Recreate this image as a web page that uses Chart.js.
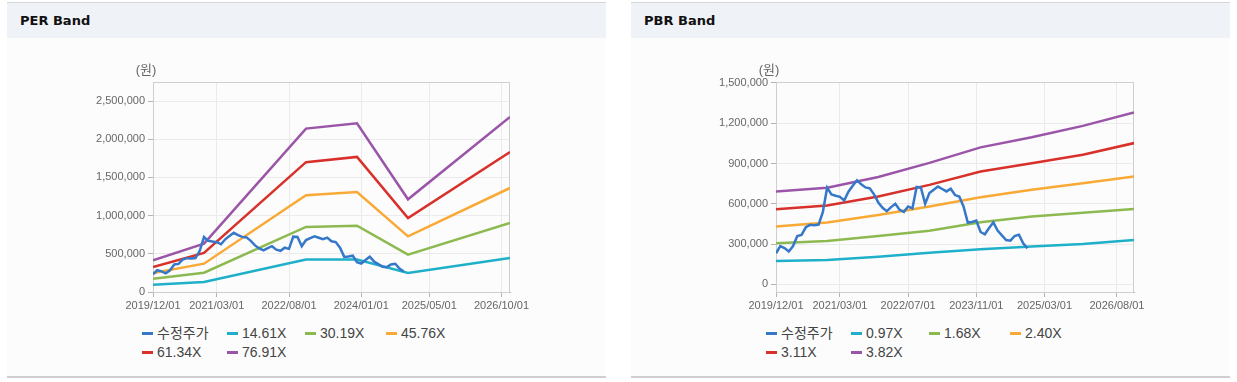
<!DOCTYPE html>
<html>
<head>
<meta charset="utf-8">
<script src="https://cdn.jsdelivr.net/npm/chart.js@4/dist/chart.umd.min.js"></script>
<style>
  body { margin: 0; width: 1237px; height: 382px; position: relative; overflow: hidden; background: #fff;
         font-family: "Liberation Sans", "Noto Sans CJK KR", sans-serif; }
  .panel { position: absolute; top: 2px; width: 599px; height: 373px; background: #fcfcfc;
           border-top: 1px solid #d6d6d6; border-bottom: 2px solid #cfcfcf; }
  .panel h3 { margin: 0; height: 35px; padding-left: 13px; background: #eff2f7;
              font: bold 13px "DejaVu Sans", sans-serif; line-height: 36px; color: #111; }
  canvas { position: absolute; }
  .legend { position: absolute; display: grid; grid-template-columns: 85px 78px 81px 81px; row-gap: 1px;
            font-size: 14px; color: #444; line-height: 18px; }
  .legend span i { display: inline-block; width: 11px; height: 3px; margin-right: 4px; vertical-align: middle;
                   position: relative; top: -1px; }
</style>
</head>
<body>
<div class="panel" style="left:7px"><h3>PER Band</h3></div>
<div class="panel" style="left:631px"><h3>PBR Band</h3></div>
<canvas id="per" width="480" height="260" style="left:60px;top:56px"></canvas>
<canvas id="pbr" width="480" height="260" style="left:680px;top:56px"></canvas>
<div class="legend" id="per-legend" style="left:142px;top:324px"></div>
<div class="legend" id="pbr-legend" style="left:766px;top:324px"></div>
<script>
// months counted from 2019/12/01
const perTickMonths = [0, 15, 32, 49, 65, 82];
const perTickLabels = ['2019/12/01', '2021/03/01', '2022/08/01', '2024/01/01', '2025/05/01', '2026/10/01'];
const pbrTickMonths = [0, 15, 31, 47, 63, 80];
const pbrTickLabels = ['2019/12/01', '2021/03/01', '2022/07/01', '2023/11/01', '2025/03/01', '2026/08/01'];

const perYTicks = [0, 500000, 1000000, 1500000, 2000000, 2500000];
const pbrYTicks = [0, 300000, 600000, 900000, 1200000, 1500000];

// 수정주가, monthly from 2019/12
const price = [231000, 285000, 270000, 245000, 285000, 360000, 368000, 425000, 443000, 440000,
  445000, 540000, 720000, 670000, 660000, 652000, 625000, 690000, 735000, 775000,
  745000, 722000, 715000, 670000, 610000, 570000, 545000, 575000, 600000, 555000,
  540000, 580000, 565000, 725000, 720000, 600000, 680000, 705000, 728000, 710000,
  692000, 712000, 665000, 654000, 580000, 460000, 465000, 475000, 390000, 373000,
  420000, 462000, 400000, 365000, 330000, 325000, 360000, 370000, 306000, 268000];

// PER band vertices
const perX = [0, 12, 36, 48, 60, 84];
const per1461 = [96000, 131000, 424000, 424000, 249000, 445000];
const per3019 = [175000, 253000, 852000, 869000, 489000, 904000];
const per4576 = [249000, 371000, 1266000, 1310000, 729000, 1362000];
const per6134 = [328000, 511000, 1700000, 1769000, 969000, 1834000];
const per7691 = [415000, 633000, 2140000, 2210000, 1214000, 2293000];

// PBR band vertices
const pbrX = [0, 12, 24, 36, 48, 60, 72, 84];
const pbr097 = [174000, 181000, 206000, 236000, 261000, 281000, 301000, 331000];
const pbr168 = [306000, 323000, 360000, 400000, 462000, 505000, 534000, 562000];
const pbr240 = [430000, 460000, 517000, 579000, 649000, 704000, 753000, 803000];
const pbr311 = [559000, 587000, 654000, 741000, 840000, 902000, 965000, 1052000];
const pbr382 = [691000, 720000, 800000, 905000, 1020000, 1095000, 1180000, 1280000];

const COLORS = ['#3577c8', '#1fb0c9', '#8cba50', '#f9a935', '#d8302b', '#9a55a8'];

const pts = (xs, ys) => ys.map((y, i) => ({ x: xs[i], y }));

const frame = {
  id: 'frame',
  beforeDatasetsDraw(chart) {
    const { ctx, chartArea: a } = chart;
    ctx.save();
    ctx.strokeStyle = '#cfcfcf';
    ctx.lineWidth = 1;
    ctx.strokeRect(a.left + 0.5, a.top + 0.5, a.right - a.left - 1, a.bottom - a.top);
    ctx.restore();
  },
  afterDraw(chart) {
    const { ctx, chartArea: a } = chart;
    ctx.save();
    ctx.fillStyle = '#666';
    ctx.font = '13px "Liberation Sans", "Noto Sans CJK KR"';
    ctx.textAlign = 'center';
    ctx.textBaseline = 'middle';
    ctx.fillText('(원)', a.left - 7, a.top - 12);
    ctx.restore();
  }
};

function makeChart(id, names, series, xs, tickMonths, tickLabels, yTicks, yMin, yMax, yWidth) {
  const datasets = [{ label: names[0], data: price.map((y, i) => ({ x: i, y })) }]
    .concat(series.map((s, i) => ({ label: names[i + 1], data: pts(xs, s) })))
    .map((d, i) => Object.assign(d, {
      borderColor: COLORS[i], backgroundColor: COLORS[i], borderWidth: 2.5,
      pointRadius: 0, tension: 0, fill: false
    }));

  const tickFont = { family: '"Liberation Sans", "Noto Sans CJK KR"', size: 11 };
  const chart = new Chart(document.getElementById(id), {
    type: 'line',
    data: { datasets },
    plugins: [frame],
    options: {
      responsive: false,
      animation: false,
      layout: { padding: { top: 26, right: id === 'per' ? 30 : 26, left: 0, bottom: 0 } },
      plugins: { legend: { display: false }, tooltip: { enabled: false } },
      scales: {
        x: {
          type: 'linear', min: 0, max: 84,
          afterBuildTicks: s => { s.ticks = tickMonths.map(v => ({ value: v })); },
          afterFit: s => { s.height = 24; },
          ticks: { autoSkip: false, maxRotation: 0, padding: 2, color: '#666', font: tickFont,
                   callback: (v, i) => tickLabels[i] },
          grid: { color: '#ebebeb', tickColor: '#b5b5b5', tickLength: 5 },
          border: { color: '#b0b0b0' }
        },
        y: {
          type: 'linear', min: yMin, max: yMax,
          afterBuildTicks: s => { s.ticks = yTicks.map(v => ({ value: v })); },
          afterFit: s => { s.width = yWidth; },
          ticks: { padding: 3, color: '#666', font: tickFont,
                   callback: v => v.toLocaleString('en-US') },
          grid: { color: '#ebebeb', tickColor: '#b5b5b5', tickLength: 5 },
          border: { color: '#b0b0b0' }
        }
      }
    }
  });

  const legend = document.getElementById(id + '-legend');
  chart.data.datasets.forEach(d => {
    legend.innerHTML += `<span><i style="background:${d.borderColor}"></i>${d.label}</span>`;
  });
  return chart;
}

makeChart('per', ['수정주가', '14.61X', '30.19X', '45.76X', '61.34X', '76.91X'],
  [per1461, per3019, per4576, per6134, per7691], perX,
  perTickMonths, perTickLabels, perYTicks, 0, 2750000, 93);

makeChart('pbr', ['수정주가', '0.97X', '1.68X', '2.40X', '3.11X', '3.82X'],
  [pbr097, pbr168, pbr240, pbr311, pbr382], pbrX,
  pbrTickMonths, pbrTickLabels, pbrYTicks, -57000, 1507000, 96);
</script>
</body>
</html>
